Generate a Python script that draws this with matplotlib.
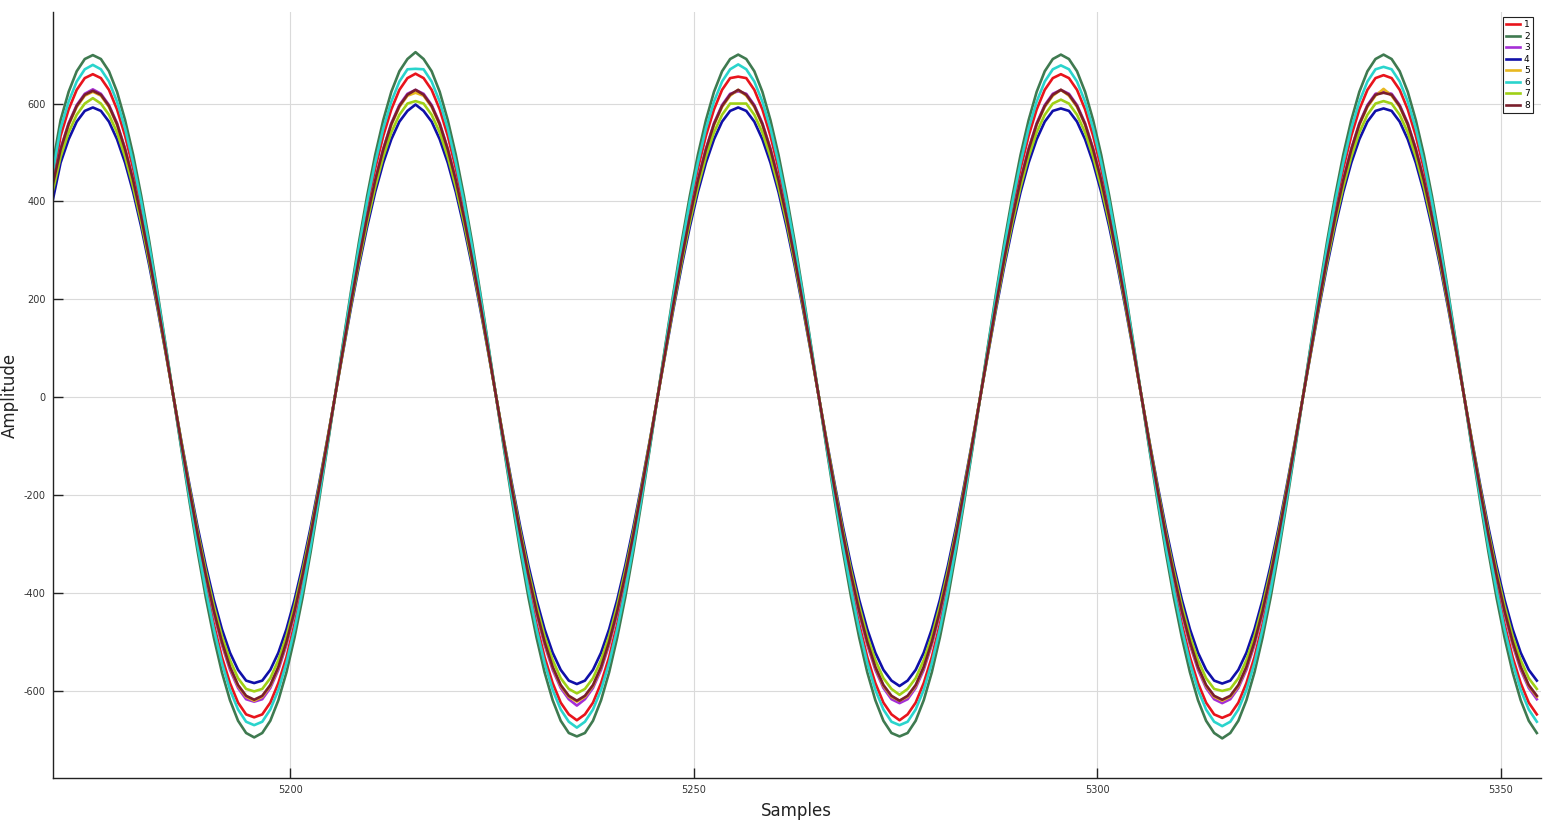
import matplotlib
matplotlib.use("Agg")
import matplotlib.pyplot as plt
import numpy as np

plt.rcParams['font.family'] = ['DejaVu Sans']
plt.rcParams['axes.unicode_minus'] = False

x_start = 5170.5
labels = ["1", "2", "3", "4", "5", "6", "7", "8"]
colors = ["#e8141c", "#3f7a50", "#a52fd6", "#1010a8", "#e8b820", "#2ad4cc", "#9fd016", "#7a1e2c"]

s1 = [439, 534, 588, 628, 652,
      660, 652, 628, 588, 534, 467, 388, 300, 204, 103, 0, -103, -203, -298, -386, -464, -531, -584, -624, -648, -654, -648, -624, -584, -531, -464, -386, -298, -203, -103, 0, 103, 204, 300, 388, 467, 534, 588, 628, 652,
      661, 652, 628, 588, 534, 467, 388, 300, 204, 103, 0, -103, -203, -298, -386, -464, -531, -584, -624, -648, -660, -648, -624, -584, -531, -464, -386, -298, -203, -103, 0, 103, 204, 300, 388, 467, 534, 588, 628, 652,
      655, 652, 628, 588, 534, 467, 388, 300, 204, 103, 0, -103, -203, -298, -386, -464, -531, -584, -624, -648, -660, -648, -624, -584, -531, -464, -386, -298, -203, -103, 0, 103, 204, 300, 388, 467, 534, 588, 628, 652,
      660, 652, 628, 588, 534, 467, 388, 300, 204, 103, 0, -103, -203, -298, -386, -464, -531, -584, -624, -648, -655, -648, -624, -584, -531, -464, -386, -298, -203, -103, 0, 103, 204, 300, 388, 467, 534, 588, 628, 652,
      658, 652, 628, 588, 534, 467, 388, 300, 204, 103, 0, -103, -203, -298, -386, -464, -531, -584, -624, -648]

s2 = [473, 566, 624, 666, 691,
      699, 691, 666, 624, 566, 495, 411, 318, 216, 109, 0, -109, -215, -316, -409, -491, -562, -619, -661, -686, -695, -686, -661, -619, -562, -491, -409, -316, -215, -109, 0, 109, 216, 318, 411, 495, 566, 624, 666, 691,
      705, 691, 666, 624, 566, 495, 411, 318, 216, 109, 0, -109, -215, -316, -409, -491, -562, -619, -661, -686, -693, -686, -661, -619, -562, -491, -409, -316, -215, -109, 0, 109, 216, 318, 411, 495, 566, 624, 666, 691,
      700, 691, 666, 624, 566, 495, 411, 318, 216, 109, 0, -109, -215, -316, -409, -491, -562, -619, -661, -686, -693, -686, -661, -619, -562, -491, -409, -316, -215, -109, 0, 109, 216, 318, 411, 495, 566, 624, 666, 691,
      700, 691, 666, 624, 566, 495, 411, 318, 216, 109, 0, -109, -215, -316, -409, -491, -562, -619, -661, -686, -697, -686, -661, -619, -562, -491, -409, -316, -215, -109, 0, 109, 216, 318, 411, 495, 566, 624, 666, 691,
      700, 691, 666, 624, 566, 495, 411, 318, 216, 109, 0, -109, -215, -316, -409, -491, -562, -619, -661, -686]

s3 = [430, 508, 560, 597, 620,
      629, 620, 597, 560, 508, 444, 369, 285, 194, 98, 0, -98, -193, -284, -367, -442, -506, -557, -594, -617, -622, -617, -594, -557, -506, -442, -367, -284, -193, -98, 0, 98, 194, 285, 369, 444, 508, 560, 597, 620,
      628, 620, 597, 560, 508, 444, 369, 285, 194, 98, 0, -98, -193, -284, -367, -442, -506, -557, -594, -617, -630, -617, -594, -557, -506, -442, -367, -284, -193, -98, 0, 98, 194, 285, 369, 444, 508, 560, 597, 620,
      625, 620, 597, 560, 508, 444, 369, 285, 194, 98, 0, -98, -193, -284, -367, -442, -506, -557, -594, -617, -625, -617, -594, -557, -506, -442, -367, -284, -193, -98, 0, 98, 194, 285, 369, 444, 508, 560, 597, 620,
      628, 620, 597, 560, 508, 444, 369, 285, 194, 98, 0, -98, -193, -284, -367, -442, -506, -557, -594, -617, -625, -617, -594, -557, -506, -442, -367, -284, -193, -98, 0, 98, 194, 285, 369, 444, 508, 560, 597, 620,
      624, 620, 597, 560, 508, 444, 369, 285, 194, 98, 0, -98, -193, -284, -367, -442, -506, -557, -594, -617]

s4 = [400, 479, 527, 563, 585,
      592, 585, 563, 527, 479, 419, 348, 269, 183, 93, 0, -92, -181, -266, -344, -414, -474, -522, -557, -579, -584, -579, -557, -522, -474, -414, -344, -266, -181, -92, 0, 93, 183, 269, 348, 419, 479, 527, 563, 585,
      598, 585, 563, 527, 479, 419, 348, 269, 183, 93, 0, -92, -181, -266, -344, -414, -474, -522, -557, -579, -586, -579, -557, -522, -474, -414, -344, -266, -181, -92, 0, 93, 183, 269, 348, 419, 479, 527, 563, 585,
      592, 585, 563, 527, 479, 419, 348, 269, 183, 93, 0, -92, -181, -266, -344, -414, -474, -522, -557, -579, -590, -579, -557, -522, -474, -414, -344, -266, -181, -92, 0, 93, 183, 269, 348, 419, 479, 527, 563, 585,
      590, 585, 563, 527, 479, 419, 348, 269, 183, 93, 0, -92, -181, -266, -344, -414, -474, -522, -557, -579, -585, -579, -557, -522, -474, -414, -344, -266, -181, -92, 0, 93, 183, 269, 348, 419, 479, 527, 563, 585,
      590, 585, 563, 527, 479, 419, 348, 269, 183, 93, 0, -92, -181, -266, -344, -414, -474, -522, -557, -579]

s5 = [425, 505, 556, 593, 616,
      624, 616, 593, 556, 505, 441, 367, 283, 193, 98, 0, -97, -192, -281, -364, -438, -502, -552, -590, -612, -620, -612, -590, -552, -502, -438, -364, -281, -192, -97, 0, 98, 193, 283, 367, 441, 505, 556, 593, 616,
      622, 616, 593, 556, 505, 441, 367, 283, 193, 98, 0, -97, -192, -281, -364, -438, -502, -552, -590, -612, -622, -612, -590, -552, -502, -438, -364, -281, -192, -97, 0, 98, 193, 283, 367, 441, 505, 556, 593, 616,
      628, 616, 593, 556, 505, 441, 367, 283, 193, 98, 0, -97, -192, -281, -364, -438, -502, -552, -590, -612, -620, -612, -590, -552, -502, -438, -364, -281, -192, -97, 0, 98, 193, 283, 367, 441, 505, 556, 593, 616,
      628, 616, 593, 556, 505, 441, 367, 283, 193, 98, 0, -97, -192, -281, -364, -438, -502, -552, -590, -612, -620, -612, -590, -552, -502, -438, -364, -281, -192, -97, 0, 98, 193, 283, 367, 441, 505, 556, 593, 616,
      630, 616, 593, 556, 505, 441, 367, 283, 193, 98, 0, -97, -192, -281, -364, -438, -502, -552, -590, -612]

s6 = [457, 549, 604, 645, 670,
      679, 670, 645, 604, 549, 479, 399, 308, 210, 106, 0, -105, -207, -305, -394, -474, -543, -598, -638, -663, -670, -663, -638, -598, -543, -474, -394, -305, -207, -105, 0, 106, 210, 308, 399, 479, 549, 604, 645, 670,
      671, 670, 645, 604, 549, 479, 399, 308, 210, 106, 0, -105, -207, -305, -394, -474, -543, -598, -638, -663, -675, -663, -638, -598, -543, -474, -394, -305, -207, -105, 0, 106, 210, 308, 399, 479, 549, 604, 645, 670,
      680, 670, 645, 604, 549, 479, 399, 308, 210, 106, 0, -105, -207, -305, -394, -474, -543, -598, -638, -663, -670, -663, -638, -598, -543, -474, -394, -305, -207, -105, 0, 106, 210, 308, 399, 479, 549, 604, 645, 670,
      678, 670, 645, 604, 549, 479, 399, 308, 210, 106, 0, -105, -207, -305, -394, -474, -543, -598, -638, -663, -672, -663, -638, -598, -543, -474, -394, -305, -207, -105, 0, 106, 210, 308, 399, 479, 549, 604, 645, 670,
      675, 670, 645, 604, 549, 479, 399, 308, 210, 106, 0, -105, -207, -305, -394, -474, -543, -598, -638, -663]

s7 = [418, 491, 541, 577, 600,
      611, 600, 577, 541, 491, 429, 357, 276, 188, 95, 0, -94, -186, -274, -354, -426, -488, -537, -574, -596, -601, -596, -574, -537, -488, -426, -354, -274, -186, -94, 0, 95, 188, 276, 357, 429, 491, 541, 577, 600,
      605, 600, 577, 541, 491, 429, 357, 276, 188, 95, 0, -94, -186, -274, -354, -426, -488, -537, -574, -596, -605, -596, -574, -537, -488, -426, -354, -274, -186, -94, 0, 95, 188, 276, 357, 429, 491, 541, 577, 600,
      600, 600, 577, 541, 491, 429, 357, 276, 188, 95, 0, -94, -186, -274, -354, -426, -488, -537, -574, -596, -608, -596, -574, -537, -488, -426, -354, -274, -186, -94, 0, 95, 188, 276, 357, 429, 491, 541, 577, 600,
      608, 600, 577, 541, 491, 429, 357, 276, 188, 95, 0, -94, -186, -274, -354, -426, -488, -537, -574, -596, -600, -596, -574, -537, -488, -426, -354, -274, -186, -94, 0, 95, 188, 276, 357, 429, 491, 541, 577, 600,
      605, 600, 577, 541, 491, 429, 357, 276, 188, 95, 0, -94, -186, -274, -354, -426, -488, -537, -574, -596]

s8 = [432, 506, 558, 595, 618,
      626, 618, 595, 558, 506, 443, 368, 284, 193, 98, 0, -97, -191, -281, -363, -437, -500, -551, -588, -610, -618, -610, -588, -551, -500, -437, -363, -281, -191, -97, 0, 98, 193, 284, 368, 443, 506, 558, 595, 618,
      628, 618, 595, 558, 506, 443, 368, 284, 193, 98, 0, -97, -191, -281, -363, -437, -500, -551, -588, -610, -620, -610, -588, -551, -500, -437, -363, -281, -191, -97, 0, 98, 193, 284, 368, 443, 506, 558, 595, 618,
      628, 618, 595, 558, 506, 443, 368, 284, 193, 98, 0, -97, -191, -281, -363, -437, -500, -551, -588, -610, -620, -610, -588, -551, -500, -437, -363, -281, -191, -97, 0, 98, 193, 284, 368, 443, 506, 558, 595, 618,
      628, 618, 595, 558, 506, 443, 368, 284, 193, 98, 0, -97, -191, -281, -363, -437, -500, -551, -588, -610, -618, -610, -588, -551, -500, -437, -363, -281, -191, -97, 0, 98, 193, 284, 368, 443, 506, 558, 595, 618,
      622, 618, 595, 558, 506, 443, 368, 284, 193, 98, 0, -97, -191, -281, -363, -437, -500, -551, -588, -610]

series = [s1, s2, s3, s4, s5, s6, s7, s8]

x_ticks = [5200, 5250, 5300, 5350]
y_ticks = [-600, -400, -200, 0, 200, 400, 600]

fig = plt.figure(figsize=(15.58, 8.24), dpi=100)
ax = fig.add_axes([0.0337, 0.0558, 0.9553, 0.9296])

for s, lab, col in zip(series, labels, colors):
    xs = x_start + np.arange(len(s))
    ax.plot(xs, s, color=col, lw=1.9, label=lab)

ax.set_xlim(5170.5, 5355.0)
ax.set_ylim(-778, 787)
ax.set_xticks(x_ticks)
ax.set_yticks(y_ticks)
ax.grid(True, color='#dadada', lw=0.8)
ax.set_axisbelow(True)
for side in ['top', 'right']:
    ax.spines[side].set_visible(False)
for side in ['left', 'bottom']:
    ax.spines[side].set_color('#222222')
    ax.spines[side].set_linewidth(1.0)
ax.tick_params(direction='in', length=7.5, width=1.0, labelsize=7, colors='#222222', labelcolor='#333333', pad=5)

ax.set_xlabel('Samples', fontsize=12, color='#222222', labelpad=5)
ax.set_ylabel('Amplitude', fontsize=12, color='#222222')
ax.yaxis.set_label_coords(-0.0225, 0.5)

leg = ax.legend(loc='upper right', bbox_to_anchor=(0.9946, 0.9935), borderaxespad=0,
                fontsize=6.5, labelspacing=0.28, handlelength=1.6, handletextpad=0.4,
                borderpad=0.35, fancybox=False, framealpha=1.0, edgecolor='#222222')
leg.get_frame().set_linewidth(0.8)

fig.savefig('out.png', dpi=100)
